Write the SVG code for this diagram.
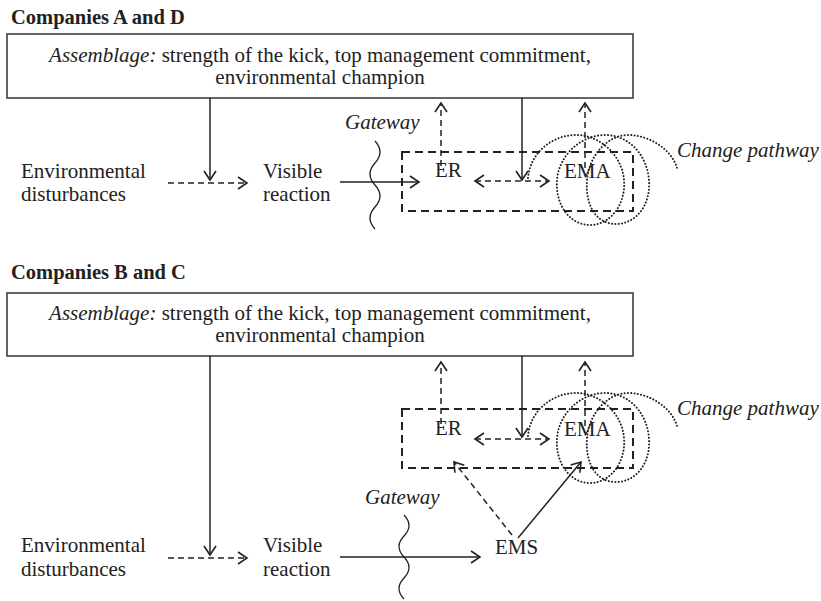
<svg xmlns="http://www.w3.org/2000/svg" width="821" height="601" viewBox="0 0 821 601">
<defs>
<style>
text{font-family:'Liberation Serif','Times New Roman',serif;font-size:21px;fill:#222}
.title{font-weight:bold;font-size:20.5px}
.it{font-style:italic}
.box{fill:#fff;stroke:#333;stroke-width:1.5}
.drect{fill:none;stroke:#222;stroke-width:2;stroke-dasharray:8 5}
.solid{fill:none;stroke:#222;stroke-width:1.5}
.dash{fill:none;stroke:#222;stroke-width:1.5;stroke-dasharray:6 4}
.dot{fill:none;stroke:#222;stroke-width:2;stroke-dasharray:0.1 3.2;stroke-linecap:round}
.wave{fill:none;stroke:#222;stroke-width:1.3}
</style>
<marker id="ah" markerWidth="14" markerHeight="14" refX="11" refY="7" orient="auto-start-reverse" markerUnits="userSpaceOnUse" viewBox="0 0 14 14">
<path d="M2 1 L11 7 L2 13" fill="none" stroke="#222" stroke-width="1.6"/>
</marker>
</defs>
<rect width="821" height="601" fill="#fff"/>

<!-- ===== Companies A and D ===== -->
<g id="title-ad"><text class="title" x="11" y="24">Companies A and D</text></g>
<g id="assemblage-ad">
<rect class="box" x="7" y="34" width="626" height="64"/>
<text x="320" y="62" text-anchor="middle"><tspan class="it">Assemblage:</tspan> strength of the kick, top management commitment,</text>
<text x="320" y="84" text-anchor="middle">environmental champion</text>
</g>
<g id="env-ad"><text x="21" y="178">Environmental</text><text x="21" y="201">disturbances</text></g>
<g id="visible-ad"><text x="263" y="178">Visible</text><text x="263" y="201">reaction</text></g>
<g id="gateway-ad">
<path class="wave" d="M375 141 q10 11 0 22 t0 22 t0 22 t0 22"/>
<text class="it" x="345" y="129">Gateway</text>
</g>
<g id="cluster-ad"><rect class="drect" x="402" y="152" width="231" height="59"/></g>
<g id="er-ad"><text x="435" y="177">ER</text></g>
<g id="ema-ad"><text x="564" y="178">EMA</text></g>
<g id="pathway-ad">
<path class="dot" d="M528 178 C530 153,552 135,576 135 C600 135,622 155,624 180 C626 205,610 225,590 225 C570 225,555 205,557 180 C559 155,581 135,605 135 C629 135,647 155,649 180 C651 205,636 224,616 224 C596 224,585 205,587 180 C589 155,608 135,628 135 C650 135,672 150,677 168"/>
<text class="it" x="677" y="157">Change pathway</text>
</g>

<!-- ===== Companies B and C ===== -->
<g id="title-bc"><text class="title" x="11" y="279">Companies B and C</text></g>
<g id="assemblage-bc">
<rect class="box" x="7" y="293" width="626" height="63"/>
<text x="320" y="320" text-anchor="middle"><tspan class="it">Assemblage:</tspan> strength of the kick, top management commitment,</text>
<text x="320" y="342" text-anchor="middle">environmental champion</text>
</g>
<g id="env-bc"><text x="21" y="552">Environmental</text><text x="21" y="576">disturbances</text></g>
<g id="visible-bc"><text x="263" y="552">Visible</text><text x="263" y="576">reaction</text></g>
<g id="gateway-bc">
<path class="wave" d="M404 515 q10 10.5 0 21 t0 21 t0 21 t0 21"/>
<text class="it" x="365" y="504">Gateway</text>
</g>
<g id="cluster-bc"><rect class="drect" x="402" y="409" width="231" height="59"/></g>
<g id="er-bc"><text x="435" y="435">ER</text></g>
<g id="ema-bc"><text x="564" y="436">EMA</text></g>
<g id="ems-bc"><text x="495" y="554">EMS</text></g>
<g id="pathway-bc">
<path class="dot" transform="translate(0 258)" d="M528 178 C530 153,552 135,576 135 C600 135,622 155,624 180 C626 205,610 225,590 225 C570 225,555 205,557 180 C559 155,581 135,605 135 C629 135,647 155,649 180 C651 205,636 224,616 224 C596 224,585 205,587 180 C589 155,608 135,628 135 C650 135,672 150,677 168"/>
<text class="it" x="677" y="415">Change pathway</text>
</g>

<!-- ===== Connectors ===== -->
<g id="connectors">
<!-- A and D -->
<line class="solid" x1="210" y1="98" x2="210" y2="180" marker-end="url(#ah)"/>
<line class="dash" x1="168" y1="183" x2="247" y2="183" marker-end="url(#ah)"/>
<line class="solid" x1="340" y1="182" x2="419" y2="182" marker-end="url(#ah)"/>
<line class="dash" x1="441" y1="166" x2="441" y2="103" marker-end="url(#ah)"/>
<line class="dash" x1="585" y1="168" x2="585" y2="103" marker-end="url(#ah)"/>
<line class="solid" x1="522" y1="98" x2="522" y2="180" marker-end="url(#ah)"/>
<line class="dash" x1="475" y1="181" x2="549" y2="181" marker-start="url(#ah)" marker-end="url(#ah)"/>
<!-- B and C -->
<line class="solid" x1="210" y1="356" x2="210" y2="555" marker-end="url(#ah)"/>
<line class="dash" x1="168" y1="558" x2="247" y2="558" marker-end="url(#ah)"/>
<line class="solid" x1="340" y1="557" x2="480" y2="557" marker-end="url(#ah)"/>
<line class="dash" x1="441" y1="424" x2="441" y2="362" marker-end="url(#ah)"/>
<line class="dash" x1="585" y1="426" x2="585" y2="362" marker-end="url(#ah)"/>
<line class="solid" x1="522" y1="356" x2="522" y2="437" marker-end="url(#ah)"/>
<line class="dash" x1="475" y1="439" x2="549" y2="439" marker-start="url(#ah)" marker-end="url(#ah)"/>
<line class="dash" x1="512" y1="535" x2="454" y2="462" marker-end="url(#ah)"/>
<line class="solid" x1="518" y1="538" x2="581" y2="462" marker-end="url(#ah)"/>
</g>
</svg>
